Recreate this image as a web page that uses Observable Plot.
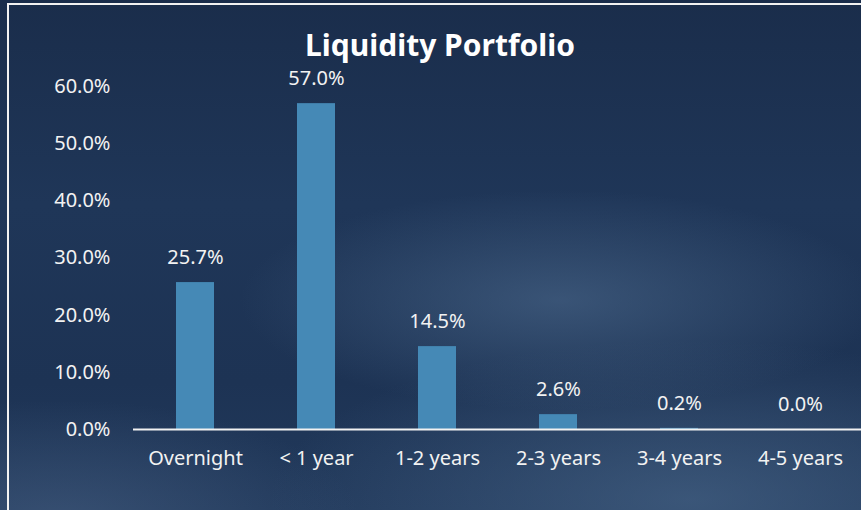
<!DOCTYPE html>
<html>
<head>
<meta charset="utf-8">
<script src="https://cdn.jsdelivr.net/npm/d3@7"></script>
<script src="https://cdn.jsdelivr.net/npm/@observablehq/plot@0.6"></script>
<style>
  html, body { margin: 0; padding: 0; }
  body { width: 861px; height: 510px; overflow: hidden; background: #1c3050; }
  #wrap {
    position: relative; width: 861px; height: 510px; overflow: hidden;
    font-family: "Noto Sans", "Open Sans", sans-serif;
    background:
      radial-gradient(ellipse 320px 110px at 560px 300px, rgba(80,110,145,0.55), rgba(80,110,145,0) 100%),
      radial-gradient(ellipse 420px 160px at 690px 500px, rgba(75,105,140,0.6), rgba(75,105,140,0) 100%),
      radial-gradient(ellipse 300px 120px at 60px 520px, rgba(75,100,135,0.5), rgba(75,100,135,0) 100%),
      linear-gradient(180deg, #1a2d4b 0%, #1f3658 40%, #1d3354 75%, #223a5c 100%);
  }
  #frame {
    position: absolute; left: 7px; top: 3px; width: 900px; height: 600px;
    border: 2px solid #f2f2f2; box-sizing: border-box;
  }
  #title {
    position: absolute; left: 0; width: 880px; top: 27px; text-align: center;
    color: #ffffff; font-weight: bold; font-size: 30px; line-height: 36px;
  }
  #chart { position: absolute; left: 0; top: 0; }
</style>
</head>
<body>
<div id="wrap">
  <div id="frame"></div>
  <div id="chart"></div>
  <div id="title">Liquidity Portfolio</div>
</div>
<script>
const categories = ["Overnight", "< 1 year", "1-2 years", "2-3 years", "3-4 years", "4-5 years"];
const values = [25.7, 57.0, 14.5, 2.6, 0.2, 0.0];
const yTicks = [0, 10, 20, 30, 40, 50, 60];
const titleText = "Liquidity Portfolio";

const data = categories.map((c, i) => ({category: c, value: values[i]}));
document.getElementById("title").textContent = titleText;

const chart = Plot.plot({
  width: 861,
  height: 510,
  marginLeft: 133,
  marginRight: 0,
  marginTop: 86,
  marginBottom: 81,
  style: {background: "transparent", color: "#f2f2f2", fontFamily: "'Noto Sans', 'Open Sans', sans-serif", fontSize: "20px"},
  x: {domain: categories, paddingInner: 0.687, paddingOuter: 0.3435, label: null, axis: null},
  y: {domain: [0, 60], label: null, axis: null},
  marks: [
    Plot.barY(data, {x: "category", y: "value", fill: "#4589b6"}),
    Plot.ruleY([0], {stroke: "#f2f2f2", strokeWidth: 2}),
    Plot.axisY({ticks: yTicks, tickSize: 0, tickPadding: 23, tickFormat: d => d.toFixed(1) + "%", label: null, fill: "#f2f2f2", fontSize: 20}),
    Plot.axisX({tickSize: 0, tickPadding: 21, label: null, fill: "#f2f2f2", fontSize: 20}),
    Plot.text(data, {x: "category", y: "value", text: d => d.value.toFixed(1) + "%", dy: -25, fill: "#f2f2f2", fontSize: 20})
  ]
});
document.getElementById("chart").appendChild(chart);
</script>
</body>
</html>
